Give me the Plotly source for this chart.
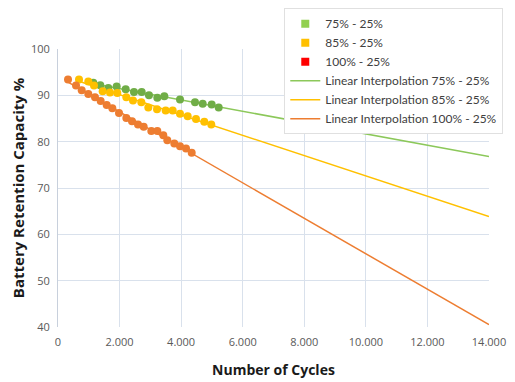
import numpy as np
import plotly.graph_objects as go

# ---- data ----
cycles_75 = [1147, 1375, 1635, 1906, 2198, 2469, 2718, 2955, 3226, 3454, 3963, 4450, 4700, 4992, 5219]
cap_75 = [92.7, 92.2, 91.6, 91.9, 91.3, 90.7, 90.7, 90.0, 89.5, 89.8, 89.1, 88.5, 88.2, 88.0, 87.4]

cycles_85 = [682, 985, 1169, 1451, 1689, 1927, 2220, 2436, 2707, 2934, 3216, 3497, 3725, 3963, 4212, 4482, 4752, 4979]
cap_85 = [93.4, 93.0, 92.1, 90.9, 90.6, 90.5, 89.6, 88.9, 88.5, 87.4, 87.0, 86.7, 86.7, 86.0, 85.5, 84.9, 84.3, 83.7]

cycles_100 = [325, 585, 770, 985, 1202, 1386, 1582, 1765, 1981, 2220, 2404, 2599, 2783, 3031, 3226, 3421, 3551, 3778, 3963, 4158, 4343]
cap_100 = [93.4, 92.1, 91.1, 90.3, 89.6, 88.8, 87.9, 87.2, 86.2, 85.1, 84.4, 83.7, 83.2, 82.3, 82.3, 81.4, 80.3, 79.6, 79.0, 78.5, 77.6]

forecast_end = 14000

series_names = ["75% - 25%", "85% - 25%", "100% - 25%"]
point_colors = ["#70ad47", "#ffc000", "#ed7d31"]
legend_colors = ["#92d050", "#ffc000", "#ff0000"]
line_colors = ["#8cc85a", "#ffc000", "#ed7d31"]

x_ticks = [0, 2000, 4000, 6000, 8000, 10000, 12000, 14000]
y_ticks = [40, 50, 60, 70, 80, 90, 100]

series = [(cycles_75, cap_75), (cycles_85, cap_85), (cycles_100, cap_100)]

fig = go.Figure()

# legend-only entries (squares)
for name, lc in zip(series_names, legend_colors):
    fig.add_trace(go.Scatter(x=[None], y=[None], mode="markers", name=name,
                             marker=dict(symbol="square", size=8, color=lc)))

# trendlines
for (xs, ys), name, c in zip(series, series_names, line_colors):
    slope, inter = np.polyfit(xs, ys, 1)
    lx = np.array([min(xs), forecast_end])
    fig.add_trace(go.Scatter(x=lx, y=slope * lx + inter, mode="lines",
                             name="Linear Interpolation " + name,
                             line=dict(color=c, width=1.5)))

# data points
for (xs, ys), name, c in zip(series, series_names, point_colors):
    fig.add_trace(go.Scatter(x=xs, y=ys, mode="markers", name=name, showlegend=False,
                             marker=dict(color=c, size=8)))

fig.update_layout(
    width=515, height=382,
    margin=dict(l=58, r=26, t=49, b=55, autoexpand=False),
    paper_bgcolor="white", plot_bgcolor="white",
    separators=",.",
    font=dict(family="Open Sans", size=11, color="#595959"),
    showlegend=True,
    legend=dict(x=0.525, y=1.147, xanchor="left", yanchor="top",
                bgcolor="white", bordercolor="#e0e0e0", borderwidth=1,
                font=dict(family="Lato", size=12, color="#404040"), tracegroupgap=0,
                itemwidth=30),
    xaxis=dict(range=[0, 14000], tickvals=x_ticks, tickformat=",d",
               showgrid=True, gridcolor="#d9e1ec", gridwidth=1, automargin=False,
               zeroline=False, showline=False, ticks="", ticklabelstandoff=7,
               tickfont=dict(size=11, color="#595959"),
               title=dict(text="<b>Number of Cycles</b>", font=dict(size=14, color="#1a1a1a"), standoff=17)),
    yaxis=dict(range=[40, 100], tickvals=y_ticks, automargin=False,
               showgrid=True, gridcolor="#d9e1ec", gridwidth=1,
               zeroline=False, showline=True, linecolor="#c8d0dc", ticks="", ticklabelstandoff=5,
               tickfont=dict(size=11, color="#595959"),
               title=dict(text="<b>Battery Retention Capacity %</b>", font=dict(size=15, color="#1a1a1a"), standoff=2)),
)

fig.write_html("out.html", config={"displayModeBar": False},
               post_script="document.body.style.margin='0';")
